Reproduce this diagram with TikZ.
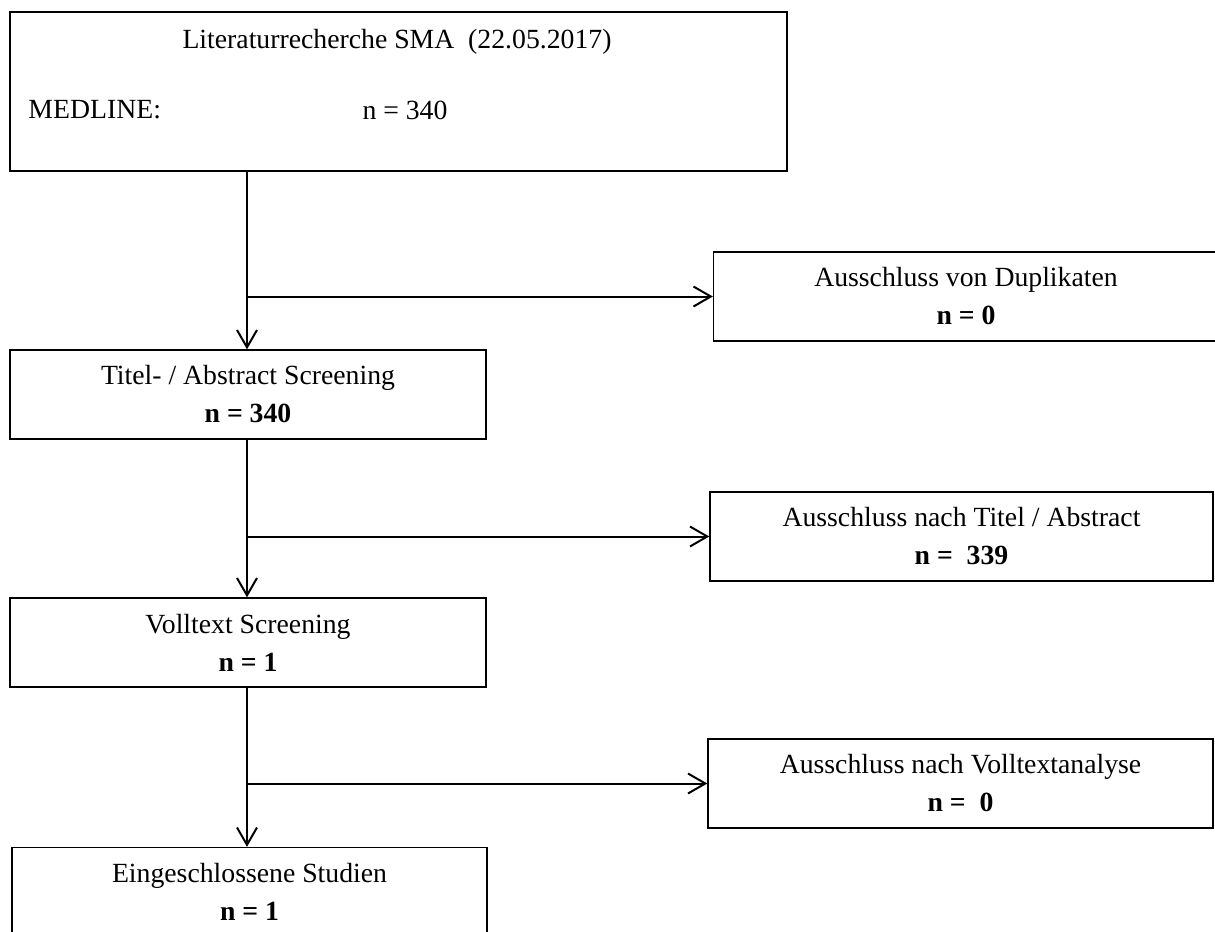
\documentclass[tikz,border=0pt]{standalone}
\usepackage{fontspec}
\setmainfont{Liberation Serif}
\usetikzlibrary{arrows.meta}

\tikzset{every picture/.style={line width=0.75pt}}
\tikzset{
  box/.style={draw, line width=1pt, inner sep=0pt, align=center, font=\fontsize{20.8}{28.5}\selectfont},
  conn/.style={line width=1.5pt, -{Straight Barb[length=13pt,width=15pt]}},
  plain/.style={inner sep=0pt, font=\fontsize{20.8}{24}\selectfont}
}

\begin{document}
\begin{tikzpicture}[x=0.75pt,y=0.75pt,yscale=-1,xscale=1]
	\useasboundingbox (0,0) rectangle (1215,932);
	
	%Boxes left column
	\node [box, minimum width=582.75pt, minimum height=119.25pt] (lit) at (398.5,91.5) {};
	\node [box, minimum width=357pt, minimum height=66.75pt] (titel) at (248,394.5) {Titel- / Abstract Screening\\\textbf{n = 340}};
	\node [box, minimum width=357pt, minimum height=66.75pt] (voll) at (248,642.5) {Volltext Screening\\\textbf{n = 1}};
	\node [box, minimum width=356.25pt, minimum height=66.75pt] (ein) at (249.5,892) {Eingeschlossene Studien\\\textbf{n = 1}};
	
	%Boxes right column
	\node [box, minimum width=378.75pt, minimum height=66.75pt] (dup) at (966,296.5) {Ausschluss von Duplikaten\\\textbf{n = 0}};
	\node [box, minimum width=377.25pt, minimum height=66.75pt] (austitel) at (961.5,536.5) {Ausschluss nach Titel / Abstract\\\textbf{n =\ \ 339}};
	\node [box, minimum width=378.75pt, minimum height=66.75pt] (ausvoll) at (960.5,783.5) {Ausschluss nach Volltextanalyse\\\textbf{n =\ \ 0}};
	
	%Texts in top box
	\node [plain] (littitle) at (397,42) {Literaturrecherche SMA\ \ (22.05.2017)};
	\node [plain, anchor=west] (medline) at (28,110) {MEDLINE:};
	\node [plain, anchor=west] (medn) at (362,110) {n = 340};
	
	%Branch points
	\coordinate (b1) at (247,296.5);
	\coordinate (b2) at (247,536.5);
	\coordinate (b3) at (247,783.5);
	
	%Connectors
	\draw [conn] (lit.south -| b1) -- (b1 |- titel.north);
	\draw [conn] (b1) -- (dup.west);
	\draw [conn] (titel.south -| b2) -- (b2 |- voll.north);
	\draw [conn] (b2) -- (austitel.west);
	\draw [conn] (voll.south -| b3) -- (b3 |- ein.north);
	\draw [conn] (b3) -- (ausvoll.west);
	
\end{tikzpicture}
\end{document}
